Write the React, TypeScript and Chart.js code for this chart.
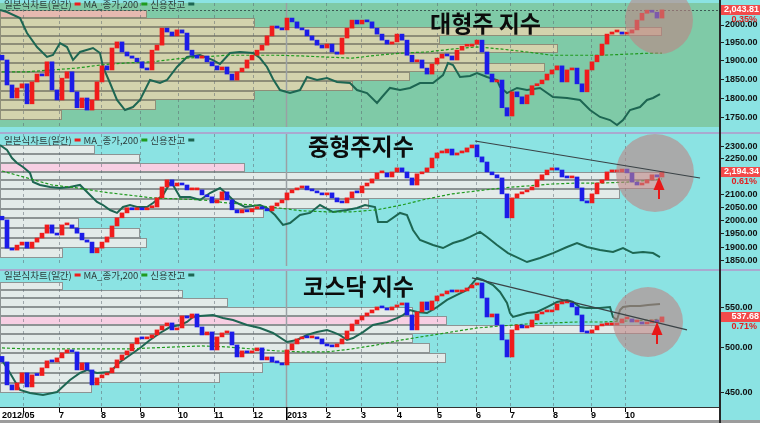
import React, { useEffect, useRef } from "react";
import { Chart, registerables } from "chart.js";
Chart.register(...registerables);

// ---------------- shared axis data ----------------
const X_MIN = -0.4;
const X_MAX = 143.4;
const MONTH_TICKS = [4.2, 11.4, 19.8, 27.6, 35.2, 42.4, 50.2, 56.8, 64.8, 71.8, 79, 87, 94.8, 101.6, 110.2, 117.8, 124.6];
const MONTH_LABELS = ["", "7", "8", "9", "10", "11", "12", "2013", "2", "3", "4", "5", "6", "7", "8", "9", "10"];
const FIRST_LABEL = "2012/05";
const YEAR_TICK_INDEX = 7;
const MA_X = [0, 5, 10, 15, 20, 25, 30, 35, 40, 45, 50, 55, 60, 65, 70, 75, 80, 85, 90, 95, 100, 105, 110, 115, 120, 125, 130, 132];
const LEGEND_NAMES = ["일본식차트(일간)", "MA_종가,200", "신용잔고"];

// ---------------- 대형주 지수 ----------------
const LARGE_FIRST_OPEN = 1915;
const LARGE_CLOSE = [
  1902, 1835, 1801, 1827, 1838, 1786, 1843, 1864, 1859, 1897,
  1822, 1796, 1853, 1870, 1817, 1776, 1801, 1770, 1796, 1843,
  1886, 1875, 1935, 1952, 1924, 1913, 1907, 1897, 1880, 1875,
  1929, 1943, 1991, 1980, 1969, 1986, 1977, 1929, 1915, 1907,
  1913, 1897, 1886, 1875, 1883, 1864, 1848, 1870, 1880, 1902,
  1915, 1929, 1943, 1969, 1997, 1991, 1986, 2020, 2009, 1991,
  1986, 1969, 1957, 1943, 1935, 1946, 1924, 1918, 1963, 1991,
  2014, 2003, 2014, 2009, 1991, 1974, 1957, 1946, 1952, 1974,
  1957, 1915, 1897, 1902, 1880, 1864, 1891, 1907, 1918, 1913,
  1902, 1929, 1940, 1940, 1946, 1957, 1924, 1864, 1843, 1848,
  1776, 1755, 1817, 1804, 1786, 1809, 1833, 1838, 1848, 1864,
  1875, 1886, 1843, 1875, 1880, 1838, 1817, 1875, 1897, 1915,
  1946, 1974, 1980, 1980, 1974, 1977, 1986, 2014, 2034, 2043,
  2037, 2020, 2043.81,
];
const LARGE_MA = [1870, 1870, 1875, 1880, 1889, 1894, 1897, 1905, 1910, 1915, 1915, 1915, 1913, 1910, 1907, 1915, 1921, 1924, 1932, 1938, 1932, 1924, 1915, 1915, 1915, 1918, 1921, 1921];
const LARGE_CREDIT_X = [-0.4, 1, 3.6, 5, 7, 9, 10.2, 11.6, 13, 14.2, 15.6, 18.2, 19.6, 20.2, 21.6, 23, 24.6, 26.2, 27.6, 29.6, 31.6, 33, 35, 37, 39.6, 42.2, 43.6, 45.6, 47.6, 50.2, 51.6, 53, 54.2, 55.6, 57.6, 59.6, 61, 63, 65, 67, 69.6, 71, 73, 75, 76, 77.6, 79.6, 81.6, 83.6, 86.2, 88.2, 89.2, 90.2, 91.6, 93.6, 95, 97, 99, 99.6, 101, 103, 105, 107.6, 110.2, 113, 115.6, 117.6, 119.6, 121.6, 123, 124.2, 125.6, 127.6, 129, 130.2, 131.6];
const LARGE_CREDIT = [94.4, 92.7, 87.9, 75.8, 64.5, 56.5, 58.1, 67.7, 64.5, 54.0, 60.5, 63.7, 59.7, 48.4, 35.5, 21.8, 13.7, 16.1, 21.8, 37.9, 35.5, 37.9, 48.4, 56.5, 58.1, 54.0, 50.8, 59.7, 60.5, 59.7, 55.6, 48.4, 38.7, 29.8, 27.4, 29.8, 40.3, 37.9, 39.5, 36.3, 35.5, 29.8, 27.4, 19.4, 24.2, 31.5, 29.8, 31.5, 35.5, 35.5, 41.9, 51.6, 50.0, 40.3, 41.1, 43.5, 40.3, 37.9, 32.3, 27.4, 31.5, 29.8, 31.5, 24.2, 23.4, 21.8, 13.7, 8.1, 5.6, 1.6, 5.6, 13.7, 16.1, 21.8, 23.4, 26.6];
const LARGE_ROW_EDGES = [2045, 2020, 1995, 1970, 1945, 1920, 1895, 1870, 1845, 1820, 1795, 1770, 1745];
const LARGE_ROW_VOL = [29.4, 51, 132.4, 88, 111.6, 97.4, 109, 82, 70.6, 51, 31.2, 12.4];
const LARGE_TICKS = [2000, 1950, 1900, 1850, 1800, 1750];
const LARGE_CHANGE = "0.35%";
const LARGE_FOCUS = { x: 131.4, v: 2014.4 };

// ---------------- 중형주지수 ----------------
const MID_FIRST_OPEN = 2015;
const MID_CLOSE = [
  2001, 1896, 1889, 1907, 1918, 1896, 1918, 1933, 1951, 1982,
  1951, 1944, 1982, 1982, 1970, 1951, 1926, 1918, 1879, 1896,
  1918, 1937, 1978, 2009, 2028, 2048, 2040, 2048, 2040, 2048,
  2051, 2087, 2131, 2160, 2135, 2147, 2139, 2119, 2119, 2119,
  2099, 2091, 2067, 2079, 2111, 2079, 2040, 2028, 2040, 2032,
  2044, 2051, 2044, 2036, 2055, 2067, 2079, 2107, 2119, 2127,
  2135, 2119, 2115, 2107, 2099, 2107, 2087, 2071, 2067, 2087,
  2111, 2107, 2135, 2147, 2164, 2189, 2189, 2172, 2193, 2210,
  2193, 2168, 2139, 2185, 2193, 2210, 2252, 2274, 2274, 2291,
  2265, 2274, 2278, 2296, 2309, 2257, 2235, 2193, 2181, 2168,
  2103, 2009, 2087, 2103, 2111, 2119, 2131, 2160, 2181, 2201,
  2210, 2201, 2172, 2168, 2172, 2127, 2075, 2067, 2103, 2147,
  2160, 2193, 2193, 2193, 2205, 2189, 2151, 2139, 2147, 2160,
  2181, 2172, 2194.34,
];
const MID_MA = [2197, 2168, 2139, 2127, 2111, 2099, 2087, 2083, 2079, 2067, 2059, 2048, 2036, 2032, 2032, 2040, 2059, 2083, 2103, 2115, 2127, 2135, 2143, 2147, 2147, 2151, 2160, 2164];
const MID_CREDIT_X = [-0.4, 1, 2, 3, 4.2, 5.6, 6.2, 7.6, 9.6, 11.6, 13.6, 15.6, 17.2, 19, 20.2, 21.6, 23, 24.2, 25.6, 27, 29, 30.2, 32.2, 33.6, 34.2, 35.6, 37.6, 39.6, 41.6, 43.6, 45.2, 46.6, 48.6, 51.6, 53, 54.6, 56.2, 57.6, 59.6, 61.6, 63.6, 66.2, 69, 71, 72.6, 74.6, 75.2, 77, 79.6, 81, 82.2, 83.6, 86.2, 88.2, 90.2, 92.2, 93.6, 95.6, 97, 99, 101.2, 105, 107.6, 110.2, 113, 115, 117, 119.6, 122.2, 124.2, 126.2, 128.2, 130.2, 131.6];
const MID_CREDIT = [91.7, 87.9, 81.8, 78.0, 75.0, 70.5, 63.6, 61.4, 59.8, 59.1, 59.8, 61.4, 55.3, 48.5, 46.2, 42.4, 40.2, 44.7, 46.2, 44.7, 44.7, 47.7, 53.8, 62.9, 61.4, 52.3, 52.3, 50.0, 55.3, 59.1, 53.8, 48.5, 44.7, 46.2, 43.9, 38.6, 31.1, 32.6, 38.6, 40.2, 46.2, 40.9, 42.4, 43.9, 46.2, 44.7, 33.3, 33.3, 40.2, 38.6, 27.3, 19.7, 15.9, 13.6, 17.4, 19.7, 22.0, 25.8, 22.0, 15.9, 9.8, 3.0, 6.1, 9.8, 14.4, 17.4, 14.4, 12.1, 10.6, 13.6, 9.8, 10.6, 9.8, 6.8];
const MID_ROW_EDGES = [2310, 2270, 2232, 2194, 2158, 2122, 2084, 2045, 2008, 1971, 1934, 1897, 1860];
const MID_ROW_VOL = [19, 28, 49, 132, 132, 124, 73.8, 52.8, 15.8, 28, 29.4, 12.6];
const MID_TICKS = [2300, 2250, 2100, 2050, 2000, 1950, 1900, 1850];
const MID_CHANGE = "0.61%";
const MID_TREND_X = [94.6, 139.6];
const MID_TREND_V = [2326.5, 2167.8];
const MID_FOCUS = { x: 130.6, v: 2188.6 };
const MID_ARROW = { x: 131.4, v: 2171.9 };

// ---------------- 코스닥 지수 ----------------
const KQ_FIRST_OPEN = 490;
const KQ_CLOSE = [
  483.7, 458.3, 452.9, 460.4, 471.4, 456.1, 469.2, 468.5, 477.0, 484.9,
  483.7, 488.3, 494.1, 497.5, 495.2, 474.7, 482.6, 474.7, 458.3, 465.9,
  469.2, 471.4, 477.0, 486.0, 491.7, 496.4, 504.6, 511.8, 510.6, 511.8,
  515.4, 521.5, 526.4, 530.1, 521.5, 523.9, 538.9, 536.3, 541.4, 525.1,
  515.4, 519.0, 497.5, 513.0, 517.8, 519.0, 503.4, 489.4, 496.4, 494.1,
  496.4, 499.9, 486.0, 489.4, 483.7, 482.6, 480.3, 497.5, 504.6, 510.6,
  513.0, 511.8, 511.8, 510.6, 504.6, 502.2, 501.1, 504.6, 510.6, 520.2,
  528.8, 533.8, 538.9, 542.7, 546.5, 550.4, 549.1, 546.5, 550.4, 553.0,
  555.6, 540.1, 521.5, 544.0, 556.9, 546.5, 558.2, 564.8, 567.5, 571.5,
  570.1, 570.1, 571.5, 575.5, 579.6, 582.3, 562.1, 537.6, 541.4, 527.6,
  509.4, 489.4, 521.5, 527.6, 523.9, 525.1, 533.8, 541.4, 544.0, 544.0,
  546.5, 554.3, 555.6, 555.6, 550.4, 540.1, 519.0, 517.8, 521.5, 526.4,
  527.6, 527.6, 527.6, 530.1, 535.1, 535.1, 531.3, 531.3, 528.8, 530.1,
  533.8, 531.3, 537.68,
];
const KQ_MA = [499.9, 498.7, 498.7, 498.7, 498.7, 498.7, 499.9, 501.1, 502.2, 501.1, 498.7, 496.4, 495.2, 495.2, 498.7, 503.4, 509.4, 514.2, 519.0, 523.9, 526.4, 528.8, 530.1, 531.3, 531.3, 532.5, 533.8, 535.1];
const KQ_CREDIT_X = [-0.4, 1.6, 3.6, 5.6, 8.2, 11, 13.6, 15.6, 17, 19, 21.6, 23.6, 26.2, 27.6, 29.6, 31.6, 33.6, 35.6, 37, 38.2, 39.6, 42.2, 44.2, 46.2, 49, 51.6, 54.2, 57, 59, 61, 63, 65, 66.2, 67.6, 69, 70.2, 72.2, 74.2, 77, 79, 80.2, 81.6, 83, 85, 87, 89, 91, 93, 95, 96.2, 98.2, 99.6, 101, 101.6, 102.2, 103.6, 105, 107, 109, 111, 113, 114.2, 115.6, 117, 119.6, 121.6, 122.2, 123, 123.6, 124.2, 125.6, 127.6, 129.2, 131.6];
const KQ_CREDIT = [36.8, 25.0, 12.5, 10.3, 8.8, 11.0, 19.9, 25.0, 27.2, 25.0, 25.7, 33.1, 39.7, 43.4, 49.3, 54.4, 58.8, 60.3, 62.5, 66.2, 66.9, 67.6, 65.4, 64.0, 60.3, 58.1, 54.4, 47.8, 49.3, 52.9, 55.1, 56.6, 55.1, 52.9, 49.3, 50.7, 55.1, 60.3, 62.5, 65.4, 67.6, 71.3, 69.9, 69.1, 73.5, 78.7, 82.4, 86.0, 94.9, 93.4, 89.7, 84.6, 76.5, 69.1, 66.2, 67.6, 69.1, 69.9, 73.5, 77.2, 78.7, 77.2, 73.5, 72.8, 72.8, 73.5, 66.2, 64.0, 71.3, 73.5, 74.3, 74.3, 75.0, 75.7];
const KQ_ROW_EDGES = [584, 573, 562, 550.5, 539, 527.5, 516.5, 505.5, 494, 482.5, 471.5, 460.5, 449.5];
const KQ_ROW_VOL = [12.6, 36.6, 45.6, 82.6, 89.4, 131.4, 82.6, 86, 89.2, 52.6, 44, 18.4];
const KQ_TICKS = [550, 500, 450];
const KQ_CHANGE = "0.71%";
const KQ_TREND_X = [94, 137];
const KQ_TREND_V = [589.2, 521.5];
const KQ_FOCUS = { x: 129.2, v: 531.3 };
const KQ_ARROW = { x: 131, v: 531.3 };

// ---------------- styles ----------------
const CYAN = "#8be3e3";
const GREEN_BG = "#7fcaa7";
const RED = "#f01c1c";
const BLUE = "#1c1ce8";
const TEAL = "#1d6652";
const MA_GREEN = "#1f9a1f";
const SEP = "#a9a9cf";
const CIRCLE = "rgba(190,132,132,0.6)";

const PANELS: any[] = [
  {
    title: "대형주 지수", titleX: 430, titleY: 23, legendY: 4,
    closes: LARGE_CLOSE, firstOpen: LARGE_FIRST_OPEN, ma: LARGE_MA, creditX: LARGE_CREDIT_X, credit: LARGE_CREDIT,
    rowEdges: LARGE_ROW_EDGES, rowVol: LARGE_ROW_VOL, ticks: LARGE_TICKS, change: LARGE_CHANGE, focus: LARGE_FOCUS, focusR: 34,
    yMin: 1727.5, yMax: 2064.2, height: 130, top: 0, padTop: 3, padBottom: 3,
    plotBg: GREEN_BG, rowFill: "#d3d3ad", rowPink: "#e6b9b0", rowBorder: "#8e8e78", priceLine: true,
  },
  {
    title: "중형주지수", titleX: 308, titleY: 16, legendY: 10,
    closes: MID_CLOSE, firstOpen: MID_FIRST_OPEN, ma: MID_MA, creditX: MID_CREDIT_X, credit: MID_CREDIT,
    rowEdges: MID_ROW_EDGES, rowVol: MID_ROW_VOL, ticks: MID_TICKS, change: MID_CHANGE, focus: MID_FOCUS, focusR: 39,
    trendX: MID_TREND_X, trendV: MID_TREND_V, arrow: MID_ARROW,
    yMin: 1832.4, yMax: 2357.8, height: 138, top: 130, padTop: 4, padBottom: 2, sepY: 2,
    plotBg: CYAN, rowFill: "#e3ebe9", rowPink: "#f7cfe3", rowBorder: "#8d9494",
  },
  {
    title: "코스닥 지수", titleX: 303, titleY: 18, legendY: 7,
    closes: KQ_CLOSE, firstOpen: KQ_FIRST_OPEN, ma: KQ_MA, creditX: KQ_CREDIT_X, credit: KQ_CREDIT,
    rowEdges: KQ_ROW_EDGES, rowVol: KQ_ROW_VOL, ticks: KQ_TICKS, change: KQ_CHANGE, focus: KQ_FOCUS, focusR: 35,
    trendX: KQ_TREND_X, trendV: KQ_TREND_V, arrow: KQ_ARROW,
    yMin: 435.1, yMax: 598.9, height: 155, top: 268, padTop: 3, padBottom: 0, sepY: 1, xAxis: true,
    plotBg: CYAN, rowFill: "#e3ebe9", rowPink: "#f7cfe3", rowBorder: "#8d9494",
  },
];

function fmtPrice(v: number) {
  return v.toLocaleString("en-US", { minimumFractionDigits: 2, maximumFractionDigits: 2 });
}

function makeChart(canvas: HTMLCanvasElement, p: any) {
  const opens = p.closes.map((c: number, i: number) => (i === 0 ? p.firstOpen : p.closes[i - 1]));
  const candles = p.closes.map((c: number, i: number) => ({ x: i, y: [opens[i], c] }));
  const candleColors = p.closes.map((c: number, i: number) => (c >= opens[i] ? RED : BLUE));
  const ma = MA_X.map((x, k) => ({ x, y: p.ma[k] }));
  const credit = p.creditX.map((x: number, k: number) => ({ x, y: p.credit[k] }));
  const last = p.closes[p.closes.length - 1];

  const decor = {
    id: "decor",
    beforeDraw(chart: any) {
      const { ctx, chartArea: a, width, height } = chart;
      const xs = chart.scales.x;
      const ys = chart.scales.y;
      ctx.save();
      ctx.fillStyle = CYAN;
      ctx.fillRect(0, 0, width, height);
      if (p.sepY !== undefined) {
        ctx.fillStyle = SEP;
        ctx.fillRect(0, p.sepY, width, 2);
      }
      ctx.fillStyle = p.plotBg;
      ctx.fillRect(a.left, a.top, a.right - a.left, a.bottom - a.top);
      ctx.beginPath();
      ctx.rect(a.left, a.top, a.right - a.left, a.bottom - a.top);
      ctx.clip();
      for (let k = 0; k < p.rowVol.length; k++) {
        const t = Math.round(ys.getPixelForValue(p.rowEdges[k]));
        const b = Math.round(ys.getPixelForValue(p.rowEdges[k + 1]));
        const r = Math.round(xs.getPixelForValue(X_MIN + p.rowVol[k]));
        const current = last <= p.rowEdges[k] && last > p.rowEdges[k + 1];
        ctx.fillStyle = current ? p.rowPink : p.rowFill;
        ctx.fillRect(a.left, t, r - a.left, b - t);
        ctx.strokeStyle = p.rowBorder;
        ctx.lineWidth = 1;
        ctx.strokeRect(a.left + 0.5, t + 0.5, r - a.left - 1, b - t - 1);
      }
      MONTH_TICKS.forEach((m, k) => {
        const px = Math.round(xs.getPixelForValue(m)) + 0.5;
        ctx.beginPath();
        if (k === YEAR_TICK_INDEX) {
          ctx.setLineDash([]);
          ctx.strokeStyle = "#9aa0a4";
          ctx.lineWidth = 1.5;
        } else {
          ctx.setLineDash([3, 3]);
          ctx.strokeStyle = "rgba(90,100,110,0.5)";
          ctx.lineWidth = 1;
        }
        ctx.moveTo(px, a.top);
        ctx.lineTo(px, a.bottom);
        ctx.stroke();
      });
      if (p.priceLine) {
        const py = Math.round(ys.getPixelForValue(last)) + 0.5;
        ctx.setLineDash([2, 2]);
        ctx.strokeStyle = "#3d5a55";
        ctx.lineWidth = 1;
        ctx.beginPath();
        ctx.moveTo(a.left, py);
        ctx.lineTo(a.right, py);
        ctx.stroke();
      }
      ctx.setLineDash([]);
      ctx.restore();
    },
    afterDatasetsDraw(chart: any) {
      const { ctx, chartArea: a } = chart;
      const xs = chart.scales.x;
      const ys = chart.scales.y;
      ctx.save();
      // focus circle
      ctx.fillStyle = CIRCLE;
      ctx.beginPath();
      ctx.arc(xs.getPixelForValue(p.focus.x), ys.getPixelForValue(p.focus.v), p.focusR, 0, Math.PI * 2);
      ctx.fill();
      // trend line
      if (p.trendX) {
        ctx.strokeStyle = "#3a4246";
        ctx.lineWidth = 1.2;
        ctx.beginPath();
        ctx.moveTo(xs.getPixelForValue(p.trendX[0]), ys.getPixelForValue(p.trendV[0]));
        ctx.lineTo(xs.getPixelForValue(p.trendX[1]), ys.getPixelForValue(p.trendV[1]));
        ctx.stroke();
      }
      // arrow
      if (p.arrow) {
        const ax = xs.getPixelForValue(p.arrow.x);
        const ay = ys.getPixelForValue(p.arrow.v);
        ctx.fillStyle = "#e81818";
        ctx.beginPath();
        ctx.moveTo(ax, ay);
        ctx.lineTo(ax - 5.5, ay + 13);
        ctx.lineTo(ax + 5.5, ay + 13);
        ctx.closePath();
        ctx.fill();
        ctx.fillRect(ax - 1, ay + 12, 2, 10);
      }
      // title
      ctx.fillStyle = "#0c0c0c";
      ctx.font = '700 23px "Noto Sans CJK KR", sans-serif';
      ctx.textAlign = "left";
      ctx.textBaseline = "middle";
      ctx.fillText(p.title, p.titleX, p.titleY);
      // legend
      ctx.font = '9.5px "Noto Sans CJK KR", sans-serif';
      const legendColors = [RED, MA_GREEN, TEAL];
      let lx = 4;
      LEGEND_NAMES.forEach((name, k) => {
        ctx.fillStyle = "#2d3b3b";
        ctx.fillText(name, lx, p.legendY);
        lx += ctx.measureText(name).width + 3;
        ctx.fillStyle = legendColors[k];
        ctx.fillRect(lx, p.legendY - 1.5, 6, 3);
        lx += 9;
      });
      // value tag
      const ty = Math.round(ys.getPixelForValue(last));
      ctx.fillStyle = "#f24a4a";
      ctx.fillRect(a.right + 2, ty - 5, 39, 10);
      ctx.font = 'bold 9px "Liberation Sans", sans-serif';
      ctx.textAlign = "right";
      ctx.fillStyle = "#ffffff";
      ctx.fillText(fmtPrice(last), 759, ty);
      ctx.fillStyle = "#e01e1e";
      ctx.fillText(p.change, 757, ty + 10);
      ctx.restore();
    },
    afterDraw(chart: any) {
      const { ctx, chartArea: a, height } = chart;
      const xs = chart.scales.x;
      ctx.save();
      if (p.xAxis) {
        ctx.fillStyle = "#ffffff";
        ctx.fillRect(0, a.bottom, a.right, height - a.bottom - 3);
        ctx.fillStyle = "#333333";
        ctx.fillRect(0, a.bottom, a.right, 1);
        ctx.fillStyle = "#9c9c9c";
        ctx.fillRect(0, height - 3, chart.width, 3);
        ctx.font = 'bold 9px "Liberation Sans", sans-serif';
        ctx.textAlign = "left";
        ctx.textBaseline = "alphabetic";
        ctx.fillStyle = "#000";
        ctx.fillText(FIRST_LABEL, 2, a.bottom + 11);
        MONTH_TICKS.forEach((m, k) => {
          const px = Math.round(xs.getPixelForValue(m));
          ctx.fillStyle = "#000";
          if (k === YEAR_TICK_INDEX) ctx.fillRect(px, a.bottom, 1.5, height - a.bottom - 3);
          else ctx.fillRect(px, a.bottom + 1, 1, 4);
          if (MONTH_LABELS[k]) ctx.fillText(MONTH_LABELS[k], px + (k === YEAR_TICK_INDEX ? 1 : 0), a.bottom + 11);
        });
      }
      ctx.fillStyle = "#262626";
      ctx.fillRect(a.right, 0, 2, height);
      ctx.restore();
    },
  };

  return new Chart(canvas, {
    type: "bar",
    data: {
      datasets: [
        { type: "line", data: credit, yAxisID: "yc", borderColor: TEAL, borderWidth: 2, pointRadius: 0, tension: 0, order: 3 } as any,
        { type: "line", data: ma, yAxisID: "y", borderColor: MA_GREEN, borderWidth: 1.2, borderDash: [3, 2], pointRadius: 0, tension: 0, order: 2 } as any,
        { type: "bar", data: candles, yAxisID: "y", backgroundColor: candleColors, barThickness: 4, minBarLength: 2, borderWidth: 0, order: 1 } as any,
      ],
    },
    options: {
      responsive: false,
      maintainAspectRatio: false,
      animation: false,
      events: [],
      layout: { padding: { top: p.padTop, bottom: p.padBottom, left: 0, right: 0 } },
      plugins: { legend: { display: false }, tooltip: { enabled: false } },
      scales: {
        x: {
          type: "linear", min: X_MIN, max: X_MAX, bounds: "data", offset: false, display: !!p.xAxis,
          ticks: { display: false }, grid: { display: false }, border: { display: false },
          afterFit: (s: any) => { s.height = p.xAxis ? 16 : 0; s.paddingLeft = 0; s.paddingRight = 0; },
        },
        y: {
          type: "logarithmic", position: "right", min: p.yMin, max: p.yMax, bounds: "data",
          afterBuildTicks: (s: any) => { s.ticks = p.ticks.map((v: number) => ({ value: v })); },
          ticks: {
            autoSkip: false, padding: 1, color: "#111",
            font: { family: "Liberation Sans", size: 9, weight: "bold" },
            callback: (v: any) => Number(v).toFixed(2),
          },
          grid: { drawOnChartArea: false, drawTicks: true, tickLength: 5, color: "#222" },
          border: { display: false },
          afterFit: (s: any) => { s.width = 41; s.paddingTop = 0; s.paddingBottom = 0; },
        },
        yc: { type: "linear", display: false, min: 0, max: 100 },
      } as any,
    } as any,
    plugins: [decor],
  });
}

export default function App() {
  const r1 = useRef<HTMLCanvasElement>(null);
  const r2 = useRef<HTMLCanvasElement>(null);
  const r3 = useRef<HTMLCanvasElement>(null);
  useEffect(() => {
    const refs = [r1, r2, r3];
    const charts = PANELS.map((p, i) => makeChart(refs[i].current as HTMLCanvasElement, p));
    return () => charts.forEach((c) => c.destroy());
  }, []);
  return (
    <div style={{ position: "absolute", left: 0, top: 0, width: 760, height: 423, background: CYAN, overflow: "hidden" }}>
      <canvas ref={r1} width={760} height={PANELS[0].height} style={{ position: "absolute", left: 0, top: PANELS[0].top }} />
      <canvas ref={r2} width={760} height={PANELS[1].height} style={{ position: "absolute", left: 0, top: PANELS[1].top }} />
      <canvas ref={r3} width={760} height={PANELS[2].height} style={{ position: "absolute", left: 0, top: PANELS[2].top }} />
    </div>
  );
}
